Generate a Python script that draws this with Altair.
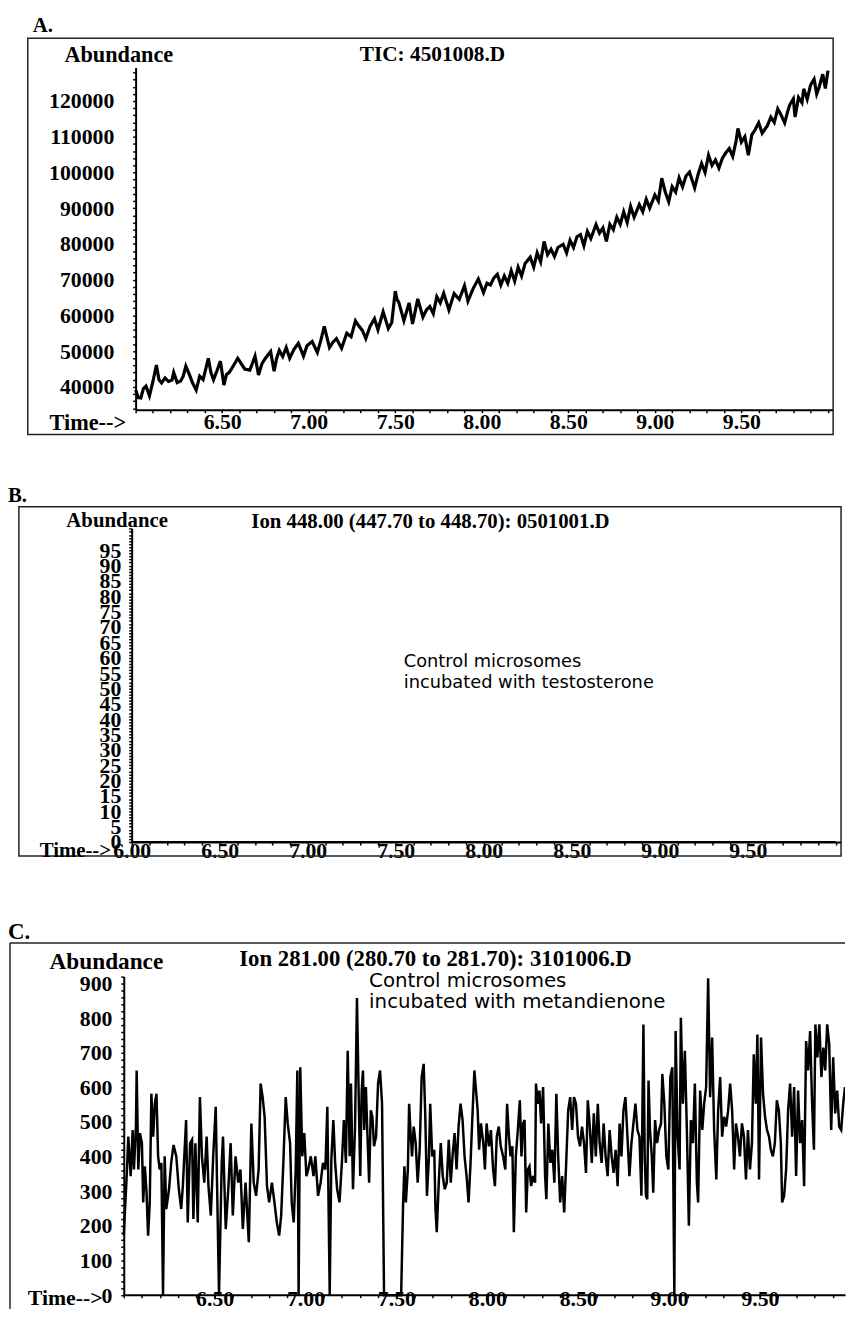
import altair as alt
import pandas as pd

# ---------------- Panel A : TIC 4501008.D ----------------
a_time = [6.000, 6.015, 6.030, 6.045, 6.060, 6.080, 6.100, 6.120, 6.135, 6.150,
          6.170, 6.190, 6.210, 6.220, 6.240, 6.260, 6.275, 6.290, 6.310, 6.330,
          6.350, 6.370, 6.390, 6.420, 6.435, 6.450, 6.470, 6.490, 6.510, 6.525,
          6.540, 6.560, 6.590, 6.610, 6.630, 6.660, 6.690, 6.710, 6.730, 6.750,
          6.780, 6.800, 6.815, 6.830, 6.850, 6.870, 6.890, 6.915, 6.940, 6.970,
          6.990, 7.020, 7.050, 7.070, 7.090, 7.120, 7.140, 7.160, 7.190, 7.220,
          7.245, 7.270, 7.290, 7.310, 7.330, 7.355, 7.380, 7.400, 7.430, 7.460,
          7.480, 7.500, 7.510, 7.520, 7.550, 7.580, 7.600, 7.630, 7.660, 7.680,
          7.700, 7.720, 7.740, 7.760, 7.780, 7.810, 7.840, 7.870, 7.900, 7.920,
          7.950, 7.980, 8.010, 8.030, 8.050, 8.070, 8.090, 8.110, 8.130, 8.150,
          8.170, 8.190, 8.210, 8.230, 8.250, 8.280, 8.300, 8.320, 8.340, 8.360,
          8.380, 8.400, 8.420, 8.440, 8.470, 8.490, 8.510, 8.530, 8.550, 8.570,
          8.590, 8.610, 8.630, 8.660, 8.680, 8.700, 8.720, 8.740, 8.760, 8.780,
          8.800, 8.820, 8.840, 8.860, 8.880, 8.910, 8.930, 8.950, 8.970, 9.000,
          9.020, 9.040, 9.060, 9.080, 9.100, 9.120, 9.140, 9.160, 9.180, 9.200,
          9.230, 9.250, 9.270, 9.290, 9.310, 9.330, 9.350, 9.370, 9.390, 9.410,
          9.430, 9.450, 9.470, 9.480, 9.500, 9.520, 9.540, 9.560, 9.580, 9.600,
          9.620, 9.650, 9.670, 9.690, 9.710, 9.730, 9.750, 9.770, 9.780, 9.800,
          9.810, 9.830, 9.850, 9.860, 9.880, 9.900, 9.920, 9.935, 9.950, 9.970,
          9.985, 10.000]
a_abund = [39100, 37000, 36900, 39500, 40200, 37500, 41500, 46100, 42000, 41100,
           42500, 41500, 41900, 44000, 41200, 41600, 43000, 45800, 43500, 41000,
           39100, 43000, 42000, 48000, 44000, 42000, 44500, 47200, 40500, 43500,
           44000, 45500, 48000, 46500, 45000, 44700, 48600, 43300, 46500, 48000,
           49900, 44400, 48000, 50200, 48500, 51000, 48000, 50500, 52200, 48600,
           51500, 52700, 49600, 53000, 56900, 51000, 52500, 53500, 50800, 55000,
           54000, 58500, 57000, 55800, 53500, 57000, 59100, 56000, 61000, 56300,
           58000, 66800, 64500, 63700, 58500, 63500, 57600, 64600, 59500, 61500,
           62500, 60500, 65200, 63500, 66200, 61500, 66100, 64500, 68300, 64000,
           67500, 70200, 66400, 69000, 68500, 70500, 71500, 68500, 71000, 69000,
           72500, 69600, 73500, 71000, 74500, 76300, 73500, 77500, 75000, 80700,
           77000, 78500, 76500, 79000, 79900, 77500, 81000, 79000, 82000, 82600,
           79500, 83500, 81500, 85400, 83000, 84500, 80700, 85500, 84000, 87500,
           85500, 89000, 86000, 90500, 87500, 91000, 89000, 92500, 90000, 93700,
           92000, 98400, 94500, 91800, 96000, 94500, 98500, 96000, 99000, 100100,
           95700, 99500, 102500, 100000, 104800, 102000, 103500, 101200, 104000, 105500,
           106700, 104500, 109000, 112300, 108500, 110000, 104800, 110500, 112000, 113900,
           111000, 113100, 115500, 114000, 117800, 116000, 113900, 117500, 119000, 120600,
           115500, 121000, 119500, 123400, 120500, 124500, 126100, 122000, 124000, 127500,
           123500, 128500]

# ---------------- Panel B : Ion 448.00 (flat trace) ----------------
b_time = [6.0, 10.0]
b_abund = [0, 0]

# ---------------- Panel C : Ion 281.00 ----------------
c_time = [6.000, 6.016, 6.025, 6.038, 6.049, 6.056, 6.067, 6.071, 6.080, 6.089,
          6.100, 6.107, 6.116, 6.125, 6.134, 6.143, 6.152, 6.162, 6.171, 6.180,
          6.189, 6.198, 6.207, 6.216, 6.225, 6.234, 6.249, 6.261, 6.274, 6.289,
          6.303, 6.316, 6.325, 6.343, 6.352, 6.365, 6.376, 6.383, 6.394, 6.407,
          6.419, 6.430, 6.443, 6.456, 6.466, 6.479, 6.492, 6.506, 6.524, 6.539,
          6.546, 6.561, 6.575, 6.588, 6.600, 6.615, 6.630, 6.642, 6.655, 6.670,
          6.688, 6.702, 6.715, 6.728, 6.742, 6.753, 6.764, 6.775, 6.788, 6.800,
          6.815, 6.829, 6.842, 6.855, 6.866, 6.878, 6.891, 6.902, 6.915, 6.924,
          6.935, 6.946, 6.955, 6.962, 6.971, 6.982, 6.993, 7.005, 7.015, 7.029,
          7.044, 7.054, 7.069, 7.083, 7.096, 7.109, 7.120, 7.133, 7.142, 7.153,
          7.163, 7.174, 7.187, 7.200, 7.211, 7.222, 7.232, 7.243, 7.250, 7.261,
          7.272, 7.283, 7.294, 7.301, 7.309, 7.316, 7.323, 7.332, 7.341, 7.350,
          7.359, 7.368, 7.377, 7.388, 7.399, 7.410, 7.421, 7.432, 7.526, 7.537,
          7.544, 7.552, 7.563, 7.570, 7.577, 7.586, 7.595, 7.606, 7.617, 7.628,
          7.639, 7.650, 7.659, 7.668, 7.679, 7.686, 7.697, 7.708, 7.715, 7.722,
          7.733, 7.744, 7.755, 7.766, 7.777, 7.788, 7.799, 7.810, 7.820, 7.831,
          7.842, 7.853, 7.864, 7.875, 7.886, 7.897, 7.907, 7.918, 7.929, 7.947,
          7.955, 7.965, 7.978, 7.987, 7.996, 8.009, 8.020, 8.032, 8.042, 8.052,
          8.063, 8.074, 8.087, 8.099, 8.109, 8.119, 8.128, 8.138, 8.146, 8.157,
          8.168, 8.179, 8.188, 8.197, 8.205, 8.214, 8.223, 8.232, 8.241, 8.252,
          8.263, 8.268, 8.277, 8.287, 8.296, 8.307, 8.318, 8.325, 8.336, 8.347,
          8.358, 8.369, 8.380, 8.390, 8.401, 8.412, 8.423, 8.434, 8.445, 8.456,
          8.467, 8.477, 8.488, 8.499, 8.510, 8.521, 8.532, 8.543, 8.553, 8.564,
          8.575, 8.586, 8.597, 8.608, 8.618, 8.629, 8.640, 8.651, 8.662, 8.673,
          8.684, 8.695, 8.706, 8.717, 8.728, 8.738, 8.749, 8.760, 8.771, 8.782,
          8.793, 8.804, 8.815, 8.826, 8.837, 8.848, 8.859, 8.866, 8.873, 8.880,
          8.887, 8.895, 8.905, 8.913, 8.923, 8.934, 8.945, 8.956, 8.963, 8.974,
          8.985, 8.996, 9.007, 9.018, 9.029, 9.036, 9.047, 9.058, 9.065, 9.076,
          9.087, 9.098, 9.109, 9.120, 9.131, 9.142, 9.153, 9.160, 9.171, 9.183,
          9.193, 9.204, 9.215, 9.226, 9.237, 9.248, 9.260, 9.270, 9.281, 9.292,
          9.303, 9.314, 9.325, 9.336, 9.347, 9.358, 9.368, 9.379, 9.390, 9.401,
          9.412, 9.423, 9.434, 9.445, 9.456, 9.466, 9.477, 9.486, 9.495, 9.506,
          9.517, 9.528, 9.539, 9.550, 9.560, 9.571, 9.582, 9.593, 9.604, 9.615,
          9.622, 9.633, 9.644, 9.655, 9.666, 9.677, 9.688, 9.699, 9.710, 9.721,
          9.732, 9.743, 9.754, 9.765, 9.776, 9.787, 9.797, 9.805, 9.816, 9.827,
          9.838, 9.849, 9.859, 9.870, 9.881, 9.892, 9.903, 9.914, 9.925, 9.936,
          9.947, 9.958, 9.968]
c_abund = [172, 344, 458, 344, 477, 363, 487, 649, 363, 468,
           439, 268, 372, 300, 172, 268, 582, 458, 553, 582,
           401, 363, 382, 0, 401, 249, 306, 382, 434, 401,
           306, 249, 315, 506, 210, 439, 449, 220, 439, 210,
           572, 401, 325, 458, 315, 230, 401, 544, 0, 382,
           458, 191, 306, 439, 230, 401, 325, 363, 191, 325,
           153, 496, 325, 287, 363, 611, 572, 515, 315, 268,
           325, 268, 210, 172, 230, 382, 572, 496, 439, 268,
           210, 363, 649, 0, 658, 401, 468, 344, 363, 401,
           344, 401, 287, 325, 382, 363, 544, 0, 391, 506,
           382, 306, 268, 382, 506, 382, 706, 401, 611, 306,
           477, 858, 534, 344, 591, 649, 477, 601, 458, 325,
           534, 515, 430, 458, 611, 649, 553, 0, 0, 268,
           372, 268, 363, 553, 477, 401, 487, 439, 325, 420,
           630, 668, 515, 287, 401, 553, 401, 420, 249, 182,
           325, 439, 344, 306, 325, 449, 325, 410, 468, 363,
           487, 553, 506, 401, 344, 268, 372, 515, 649, 534,
           420, 496, 439, 363, 496, 430, 477, 363, 315, 458,
           487, 430, 401, 363, 553, 458, 401, 430, 182, 401,
           477, 563, 401, 496, 506, 239, 363, 372, 315, 344,
           325, 611, 553, 591, 496, 601, 344, 277, 496, 382,
           420, 325, 582, 401, 268, 344, 239, 382, 534, 572,
           477, 572, 553, 458, 430, 487, 439, 353, 563, 487,
           382, 525, 401, 553, 439, 382, 496, 401, 344, 477,
           401, 353, 420, 315, 496, 401, 534, 572, 458, 344,
           439, 496, 553, 477, 458, 287, 782, 401, 287, 277,
           620, 477, 401, 296, 506, 439, 477, 496, 639, 553,
           401, 363, 630, 658, 0, 763, 458, 363, 801, 553,
           706, 477, 201, 506, 439, 611, 325, 268, 591, 477,
           553, 601, 915, 572, 744, 477, 334, 534, 630, 458,
           515, 487, 534, 611, 534, 363, 496, 458, 401, 496,
           458, 334, 477, 363, 439, 696, 553, 753, 334, 744,
           582, 515, 477, 458, 420, 401, 439, 563, 534, 439,
           268, 287, 363, 534, 611, 458, 601, 344, 591, 439,
           506, 315, 734, 649, 763, 553, 420, 782, 687, 782,
           630, 715, 649, 782, 725, 477, 687, 525, 591, 487,
           477, 553, 601]

# tick grids (positions only; which ones carry a label is chosen by labelExpr)
x_ticks_a = [round(6.0 + 0.1 * i, 1) for i in range(41)]
x_ticks_b = [round(6.0 + 0.1 * i, 1) for i in range(41)]
x_ticks_c = [round(6.0 + 0.1 * i, 1) for i in range(40)]
y_ticks_a = list(range(34000, 128001, 2000))
y_ticks_b = list(range(0, 103, 1))
y_ticks_c = list(range(0, 921, 20))

SERIF = "Liberation Serif"
SANS = "DejaVu Sans"
W = 846
LAB = 22

one = pd.DataFrame({"k": [0]})


def txt(s, x, y, size, font=SERIF, weight="bold", align="left", baseline="middle"):
    return alt.Chart(one).mark_text(
        text=s, font=font, fontSize=size, fontWeight=weight, align=align,
        baseline=baseline, color="black"
    ).encode(x=alt.value(x), y=alt.value(y))


def xaxis(values, expr, offset, pad, size=LAB):
    return alt.Axis(values=values, labelExpr=expr, orient="bottom", offset=offset,
                    title=None, grid=False, domainColor="black", domainWidth=2,
                    tickColor="black", tickSize=3, tickWidth=1.5,
                    labelFont=SERIF, labelFontSize=size, labelFontWeight="bold",
                    labelColor="black", labelPadding=pad, labelBaseline="middle",
                    labelOverlap=False, labelFlush=False, labelBound=False)


def yaxis(values, expr, offset, pad, size=LAB):
    return alt.Axis(values=values, labelExpr=expr, orient="left", offset=offset,
                    title=None, grid=False, domainColor="black", domainWidth=2,
                    tickColor="black", tickSize=3, tickWidth=1.5,
                    labelFont=SERIF, labelFontSize=size, labelFontWeight="bold",
                    labelColor="black", labelPadding=pad, labelBaseline="middle",
                    labelAlign="right", labelOverlap=False, labelFlush=False,
                    labelBound=False)


XLAB_NO6 = "round(datum.value*10) % 5 == 0 && datum.value > 6.05 && datum.value < 9.95 ? format(datum.value, '.2f') : ''"
XLAB_6 = "round(datum.value*10) % 5 == 0 && datum.value < 9.95 ? format(datum.value, '.2f') : ''"

# ---------------- Panel A ----------------
HA = 462
dfa = pd.DataFrame({"time": a_time, "abund": a_abund})
line_a = alt.Chart(dfa).mark_line(color="black", strokeWidth=3.2, strokeJoin="miter", clip=True).encode(
    x=alt.X("time:Q", scale=alt.Scale(domain=[6.0, 10.03], range=[129, 834], nice=False, zero=False),
            axis=xaxis(x_ticks_a, XLAB_NO6, -(HA - 399), 9)),
    y=alt.Y("abund:Q", scale=alt.Scale(domain=[33600, 129400], range=[399, 53], nice=False, zero=False),
            axis=yaxis(y_ticks_a, "datum.value % 10000 == 0 ? format(datum.value, 'd') : ''", -129, 19)),
)
frame_a = alt.Chart(one).mark_rect(fillOpacity=0, stroke="#222", strokeWidth=1.5).encode(
    x=alt.value(20), x2=alt.value(834), y=alt.value(23.5), y2=alt.value(424))
panel_a = alt.layer(
    frame_a, line_a,
    txt("A.", 25, 17, 21, baseline="alphabetic"),
    txt("Abundance", 57, 41, 22.5),
    txt("TIC: 4501008.D", 429, 41, 21.5, align="center"),
    txt("Time-->", 42, 412, 22.5),
).properties(width=W, height=HA)

# ---------------- Panel B ----------------
HB = 430
dfb = pd.DataFrame({"time": b_time, "abund": b_abund})
line_b = alt.Chart(dfb).mark_line(color="black", strokeWidth=2, clip=True).encode(
    x=alt.X("time:Q", scale=alt.Scale(domain=[6.0, 10.03], range=[125, 842], nice=False, zero=False),
            axis=xaxis(x_ticks_b, XLAB_6, -(HB - 374), 6)),
    y=alt.Y("abund:Q", scale=alt.Scale(domain=[0, 102.1], range=[374, 57], nice=False, zero=False),
            axis=yaxis(y_ticks_b, "datum.value % 5 == 0 && datum.value <= 95 ? format(datum.value, 'd') : ''", -125, 8)),
)
frame_b = alt.Chart(one).mark_rect(fillOpacity=0, stroke="#222", strokeWidth=1.5).encode(
    x=alt.value(11), x2=alt.value(842), y=alt.value(35), y2=alt.value(388))
panel_b = alt.layer(
    frame_b, line_b,
    txt("B.", 0, 30, 21, baseline="alphabetic"),
    txt("Abundance", 59, 50, 21),
    txt("Ion 448.00 (447.70 to 448.70): 0501001.D", 427, 51, 21, align="center"),
    txt("Time-->", 32, 383, 21),
    txt("Control microsomes", 400, 197, 18, font=SANS, weight="normal", baseline="alphabetic"),
    txt("incubated with testosterone", 400, 218, 18, font=SANS, weight="normal", baseline="alphabetic"),
).properties(width=W, height=HB)

# ---------------- Panel C ----------------
HC = 416
dfc = pd.DataFrame({"time": c_time, "abund": c_abund})
line_c = alt.Chart(dfc).mark_line(color="black", strokeWidth=2.5, clip=True).encode(
    x=alt.X("time:Q", scale=alt.Scale(domain=[6.0, 9.968], range=[117, 846], nice=False, zero=False),
            axis=xaxis(x_ticks_c, XLAB_NO6, -(HC - 401.5), 1)),
    y=alt.Y("abund:Q", scale=alt.Scale(domain=[0, 920], range=[402, 80], nice=False, zero=False),
            axis=yaxis(y_ticks_c, "datum.value % 100 == 0 ? format(datum.value, 'd') : ''", -117, 9)),
)
frame_c_top = alt.Chart(one).mark_rule(color="#222", strokeWidth=1.5).encode(
    x=alt.value(2), x2=alt.value(846), y=alt.value(46))
frame_c_left = alt.Chart(one).mark_rule(color="#222", strokeWidth=1.5).encode(
    x=alt.value(2), y=alt.value(46), y2=alt.value(416))
panel_c = alt.layer(
    frame_c_top, frame_c_left, line_c,
    txt("C.", 0, 42, 23, baseline="alphabetic"),
    txt("Abundance", 42, 65, 23.5),
    txt("Ion 281.00 (280.70 to 281.70): 3101006.D", 432, 62, 23, align="center"),
    txt("Time-->", 20, 405, 22),
    txt("Control microsomes", 365, 90, 20, font=SANS, weight="normal", baseline="alphabetic"),
    txt("incubated with metandienone", 365, 112, 20, font=SANS, weight="normal", baseline="alphabetic"),
).properties(width=W, height=HC)

chart = alt.vconcat(panel_a, panel_b, panel_c, spacing=0).properties(
    padding=0
).configure_view(strokeWidth=0)

chart.save("out.html", embed_options={"renderer": "svg", "actions": False})
